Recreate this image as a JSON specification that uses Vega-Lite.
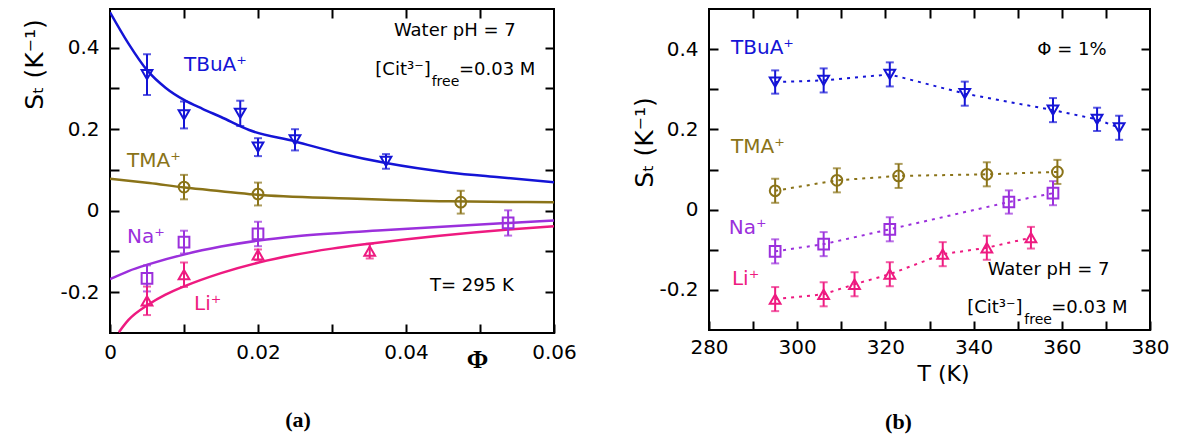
{
  "$schema": "https://vega.github.io/schema/vega-lite/v6.json",
  "background": "white",
  "padding": {"left": 21, "top": 7, "right": 0, "bottom": 0},
  "spacing": 155,
  "bounds": "flush",
  "config": {
    "font": "DejaVu Sans",
    "view": {"stroke": "black", "strokeWidth": 2},
    "axis": {"domain": false, "grid": false, "tickColor": "black", "tickWidth": 2, "tickSize": -9, "labelFontSize": 20, "labelColor": "black", "labelFont": "DejaVu Sans", "labelFlush": false, "labelOverlap": false, "labelBound": false, "titleColor": "black", "titleFontWeight": "normal", "titleFont": "DejaVu Sans"}
  },
  "datasets": {
    "left_pts": [
      {"ion": "TBuA", "phi": 0.005, "st": 0.334, "err": 0.05},
      {"ion": "TBuA", "phi": 0.010, "st": 0.235, "err": 0.033},
      {"ion": "TBuA", "phi": 0.0176, "st": 0.239, "err": 0.031},
      {"ion": "TBuA", "phi": 0.020, "st": 0.156, "err": 0.022},
      {"ion": "TBuA", "phi": 0.025, "st": 0.174, "err": 0.026},
      {"ion": "TBuA", "phi": 0.0373, "st": 0.121, "err": 0.018},
      {"ion": "TMA", "phi": 0.010, "st": 0.058, "err": 0.03},
      {"ion": "TMA", "phi": 0.020, "st": 0.041, "err": 0.028},
      {"ion": "TMA", "phi": 0.0474, "st": 0.021, "err": 0.028},
      {"ion": "Na", "phi": 0.005, "st": -0.166, "err": 0.032},
      {"ion": "Na", "phi": 0.010, "st": -0.077, "err": 0.028},
      {"ion": "Na", "phi": 0.020, "st": -0.057, "err": 0.03},
      {"ion": "Na", "phi": 0.0538, "st": -0.030, "err": 0.031},
      {"ion": "Li", "phi": 0.005, "st": -0.221, "err": 0.035},
      {"ion": "Li", "phi": 0.010, "st": -0.157, "err": 0.03},
      {"ion": "Li", "phi": 0.020, "st": -0.108, "err": 0.013},
      {"ion": "Li", "phi": 0.0351, "st": -0.099, "err": 0.018}
    ],
    "left_fit": [
      {"ion": "TBuA", "phi": 0, "st": 0.487},
      {"ion": "TBuA", "phi": 0.0025, "st": 0.41},
      {"ion": "TBuA", "phi": 0.005, "st": 0.345},
      {"ion": "TBuA", "phi": 0.0075, "st": 0.302},
      {"ion": "TBuA", "phi": 0.01, "st": 0.272},
      {"ion": "TBuA", "phi": 0.0125, "st": 0.25},
      {"ion": "TBuA", "phi": 0.015, "st": 0.23},
      {"ion": "TBuA", "phi": 0.0188, "st": 0.198},
      {"ion": "TBuA", "phi": 0.025, "st": 0.17},
      {"ion": "TBuA", "phi": 0.031, "st": 0.141},
      {"ion": "TBuA", "phi": 0.0373, "st": 0.117},
      {"ion": "TBuA", "phi": 0.0458, "st": 0.094},
      {"ion": "TBuA", "phi": 0.0526, "st": 0.082},
      {"ion": "TBuA", "phi": 0.06, "st": 0.07},
      {"ion": "TMA", "phi": 0, "st": 0.0785},
      {"ion": "TMA", "phi": 0.0053, "st": 0.068},
      {"ion": "TMA", "phi": 0.0101, "st": 0.057},
      {"ion": "TMA", "phi": 0.015, "st": 0.048},
      {"ion": "TMA", "phi": 0.0195, "st": 0.04},
      {"ion": "TMA", "phi": 0.0323, "st": 0.03},
      {"ion": "TMA", "phi": 0.0458, "st": 0.023},
      {"ion": "TMA", "phi": 0.06, "st": 0.021},
      {"ion": "Na", "phi": 0, "st": -0.168},
      {"ion": "Na", "phi": 0.0025, "st": -0.148},
      {"ion": "Na", "phi": 0.0053, "st": -0.131},
      {"ion": "Na", "phi": 0.0101, "st": -0.107},
      {"ion": "Na", "phi": 0.015, "st": -0.088},
      {"ion": "Na", "phi": 0.0201, "st": -0.073},
      {"ion": "Na", "phi": 0.0255, "st": -0.062},
      {"ion": "Na", "phi": 0.0368, "st": -0.048},
      {"ion": "Na", "phi": 0.0539, "st": -0.030},
      {"ion": "Na", "phi": 0.06, "st": -0.024},
      {"ion": "Li", "phi": 0.0012, "st": -0.298},
      {"ion": "Li", "phi": 0.0025, "st": -0.268},
      {"ion": "Li", "phi": 0.0053, "st": -0.229},
      {"ion": "Li", "phi": 0.0075, "st": -0.206},
      {"ion": "Li", "phi": 0.0101, "st": -0.185},
      {"ion": "Li", "phi": 0.015, "st": -0.153},
      {"ion": "Li", "phi": 0.0201, "st": -0.127},
      {"ion": "Li", "phi": 0.025, "st": -0.108},
      {"ion": "Li", "phi": 0.03, "st": -0.093},
      {"ion": "Li", "phi": 0.035, "st": -0.081},
      {"ion": "Li", "phi": 0.0539, "st": -0.046},
      {"ion": "Li", "phi": 0.06, "st": -0.038}
    ],
    "right_pts": [
      {"ion": "TBuA", "t": 295, "st": 0.318, "err": 0.029},
      {"ion": "TBuA", "t": 306, "st": 0.322, "err": 0.03},
      {"ion": "TBuA", "t": 321, "st": 0.337, "err": 0.03},
      {"ion": "TBuA", "t": 338, "st": 0.289, "err": 0.03},
      {"ion": "TBuA", "t": 358, "st": 0.248, "err": 0.03},
      {"ion": "TBuA", "t": 368, "st": 0.225, "err": 0.029},
      {"ion": "TBuA", "t": 373, "st": 0.204, "err": 0.03},
      {"ion": "TMA", "t": 295, "st": 0.047, "err": 0.03},
      {"ion": "TMA", "t": 309, "st": 0.073, "err": 0.03},
      {"ion": "TMA", "t": 323, "st": 0.084, "err": 0.03},
      {"ion": "TMA", "t": 343, "st": 0.088, "err": 0.03},
      {"ion": "TMA", "t": 359, "st": 0.094, "err": 0.03},
      {"ion": "Na", "t": 295, "st": -0.104, "err": 0.03},
      {"ion": "Na", "t": 306, "st": -0.086, "err": 0.03},
      {"ion": "Na", "t": 321, "st": -0.049, "err": 0.03},
      {"ion": "Na", "t": 348, "st": 0.019, "err": 0.029},
      {"ion": "Na", "t": 358, "st": 0.041, "err": 0.03},
      {"ion": "Li", "t": 295, "st": -0.223, "err": 0.03},
      {"ion": "Li", "t": 306, "st": -0.211, "err": 0.03},
      {"ion": "Li", "t": 313, "st": -0.186, "err": 0.03},
      {"ion": "Li", "t": 321, "st": -0.161, "err": 0.03},
      {"ion": "Li", "t": 333, "st": -0.111, "err": 0.03},
      {"ion": "Li", "t": 343, "st": -0.095, "err": 0.03},
      {"ion": "Li", "t": 353, "st": -0.070, "err": 0.027}
    ],
    "left_ions": [
      {"ion": "TBuA", "label": "TBuA⁺", "phi": 0.01, "st": 0.357},
      {"ion": "TMA", "label": "TMA⁺", "phi": 0.0023, "st": 0.121},
      {"ion": "Na", "label": "Na⁺", "phi": 0.0023, "st": -0.065},
      {"ion": "Li", "label": "Li⁺", "phi": 0.01135, "st": -0.228}
    ],
    "right_ions": [
      {"ion": "TBuA", "label": "TBuA⁺", "t": 285, "st": 0.402},
      {"ion": "TMA", "label": "TMA⁺", "t": 285, "st": 0.157},
      {"ion": "Na", "label": "Na⁺", "t": 284.5, "st": -0.046},
      {"ion": "Li", "label": "Li⁺", "t": 285.2, "st": -0.172}
    ],
    "left_notes": [
      {"part": "center", "label": "Water pH = 7", "phi": 0.0466, "st": 0.441},
      {"part": "center", "label": "T= 295 K", "phi": 0.0489, "st": -0.184},
      {"part": "right", "label": "[Cit³⁻]", "phi": 0.04334, "st": 0.345},
      {"part": "sub", "label": "free", "phi": 0.04347, "st": 0.316},
      {"part": "left", "label": "=0.03 M", "phi": 0.04716, "st": 0.345}
    ],
    "right_notes": [
      {"part": "center", "label": "Φ = 1%", "t": 362.3, "st": 0.397},
      {"part": "center", "label": "Water pH = 7", "t": 357, "st": -0.150},
      {"part": "right", "label": "[Cit³⁻]", "t": 351.1, "st": -0.244},
      {"part": "sub", "label": "free", "t": 351.5, "st": -0.275},
      {"part": "left", "label": "=0.03 M", "t": 357.6, "st": -0.244}
    ]
  },
  "hconcat": [
    {
      "width": 444,
      "height": 324,
      "title": {"text": "(a)", "orient": "bottom", "font": "Liberation Serif", "fontSize": 22, "fontWeight": "bold", "color": "black", "dx": -34, "offset": 38},
      "resolve": {"axis": {"x": "independent", "y": "independent"}},
      "layer": [
        {
          "mark": {"type": "rule", "color": "black", "strokeWidth": 2},
          "encoding": {"y": {"datum": 0, "type": "quantitative", "scale": {"domain": [-0.3, 0.495], "nice": false, "zero": false}, "axis": null}}
        },
        {
          "data": {"name": "left_fit"},
          "mark": {"type": "line", "strokeWidth": 2.5, "interpolate": "monotone", "clip": true},
          "encoding": {
            "x": {"field": "phi", "type": "quantitative", "scale": {"domain": [0, 0.06], "nice": false, "zero": false},
              "axis": {"orient": "bottom", "values": [0, 0.01, 0.02, 0.03, 0.04, 0.05, 0.06], "labelExpr": "round(datum.value*100)%2==0 ? format(datum.value,'~g') : ''", "labelPadding": 18, "title": "Φ", "titleFont": "Liberation Serif", "titleFontSize": 26, "titleFontWeight": "bold", "titleX": 367, "titleY": 26, "titleBaseline": "middle", "titleAlign": "center"}},
            "y": {"field": "st", "type": "quantitative", "scale": {"domain": [-0.3, 0.495], "nice": false, "zero": false},
              "axis": {"orient": "left", "values": [-0.2, -0.1, 0, 0.1, 0.2, 0.3, 0.4], "labelExpr": "round(datum.value*10)%2==0 ? (datum.value < 0 ? '-' + format(-datum.value,'~g') : format(datum.value,'~g')) : ''", "labelPadding": 20, "title": "Sₜ (K⁻¹)", "titleFontSize": 25, "titleX": -63, "titleY": 55, "titleAlign": "center", "titleBaseline": "bottom"}},
            "color": {"field": "ion", "type": "nominal", "scale": {"domain": ["TBuA", "TMA", "Na", "Li"], "range": ["#1414d6", "#8a7318", "#9b30dc", "#ee1a80"]}, "legend": null},
            "detail": {"field": "ion"}
          }
        },
        {
          "data": {"name": "left_pts"},
          "mark": {"type": "errorbar", "ticks": {"size": 8, "thickness": 2}, "rule": {"strokeWidth": 2}},
          "encoding": {
            "x": {"field": "phi", "type": "quantitative", "scale": {"domain": [0, 0.06], "nice": false, "zero": false}, "axis": null},
            "y": {"field": "st", "type": "quantitative", "scale": {"domain": [-0.3, 0.495], "nice": false, "zero": false}, "axis": null},
            "yError": {"field": "err"},
            "color": {"field": "ion", "type": "nominal", "scale": {"domain": ["TBuA", "TMA", "Na", "Li"], "range": ["#1414d6", "#8a7318", "#9b30dc", "#ee1a80"]}, "legend": null}
          }
        },
        {
          "data": {"name": "left_pts"},
          "mark": {"type": "point", "filled": false, "strokeWidth": 2, "size": 115, "opacity": 1},
          "encoding": {
            "x": {"field": "phi", "type": "quantitative", "scale": {"domain": [0, 0.06], "nice": false, "zero": false},
              "axis": {"orient": "top", "values": [0.01, 0.02, 0.03, 0.04, 0.05], "labels": false, "title": null}},
            "y": {"field": "st", "type": "quantitative", "scale": {"domain": [-0.3, 0.495], "nice": false, "zero": false},
              "axis": {"orient": "right", "values": [-0.2, -0.1, 0, 0.1, 0.2, 0.3, 0.4], "labels": false, "title": null}},
            "color": {"field": "ion", "type": "nominal", "scale": {"domain": ["TBuA", "TMA", "Na", "Li"], "range": ["#1414d6", "#8a7318", "#9b30dc", "#ee1a80"]}, "legend": null},
            "shape": {"field": "ion", "type": "nominal", "scale": {"domain": ["TBuA", "TMA", "Na", "Li"], "range": ["triangle-down", "circle", "square", "triangle-up"]}, "legend": null}
          }
        },
        {
          "data": {"name": "left_ions"},
          "mark": {"type": "text", "align": "left", "baseline": "middle", "fontSize": 20},
          "encoding": {
            "x": {"field": "phi", "type": "quantitative", "axis": null},
            "y": {"field": "st", "type": "quantitative", "axis": null},
            "text": {"field": "label"},
            "color": {"field": "ion", "type": "nominal", "scale": {"domain": ["TBuA", "TMA", "Na", "Li"], "range": ["#1414d6", "#8a7318", "#9b30dc", "#ee1a80"]}, "legend": null}
          }
        },
        {
          "data": {"name": "left_notes"},
          "transform": [{"filter": "datum.part == 'center'"}],
          "mark": {"type": "text", "align": "center", "baseline": "middle", "fontSize": 18, "color": "black"},
          "encoding": {"x": {"field": "phi", "type": "quantitative", "axis": null}, "y": {"field": "st", "type": "quantitative", "axis": null}, "text": {"field": "label"}}
        },
        {
          "data": {"name": "left_notes"},
          "transform": [{"filter": "datum.part == 'right'"}],
          "mark": {"type": "text", "align": "right", "baseline": "middle", "fontSize": 18, "color": "black"},
          "encoding": {"x": {"field": "phi", "type": "quantitative", "axis": null}, "y": {"field": "st", "type": "quantitative", "axis": null}, "text": {"field": "label"}}
        },
        {
          "data": {"name": "left_notes"},
          "transform": [{"filter": "datum.part == 'left'"}],
          "mark": {"type": "text", "align": "left", "baseline": "middle", "fontSize": 18, "color": "black"},
          "encoding": {"x": {"field": "phi", "type": "quantitative", "axis": null}, "y": {"field": "st", "type": "quantitative", "axis": null}, "text": {"field": "label"}}
        },
        {
          "data": {"name": "left_notes"},
          "transform": [{"filter": "datum.part == 'sub'"}],
          "mark": {"type": "text", "align": "left", "baseline": "middle", "fontSize": 14, "color": "black"},
          "encoding": {"x": {"field": "phi", "type": "quantitative", "axis": null}, "y": {"field": "st", "type": "quantitative", "axis": null}, "text": {"field": "label"}}
        }
      ]
    },
    {
      "width": 441,
      "height": 321,
      "title": {"text": "(b)", "orient": "bottom", "font": "Liberation Serif", "fontSize": 22, "fontWeight": "bold", "color": "black", "dx": -31, "offset": 28},
      "resolve": {"axis": {"x": "independent", "y": "independent"}},
      "layer": [
        {
          "mark": {"type": "rule", "color": "black", "strokeWidth": 2},
          "encoding": {"y": {"datum": 0, "type": "quantitative", "scale": {"domain": [-0.3, 0.5], "nice": false, "zero": false}, "axis": null}}
        },
        {
          "data": {"name": "right_pts"},
          "mark": {"type": "line", "strokeWidth": 2, "strokeDash": [3, 5]},
          "encoding": {
            "x": {"field": "t", "type": "quantitative", "scale": {"domain": [280, 380], "nice": false, "zero": false},
              "axis": {"orient": "bottom", "values": [280, 290, 300, 310, 320, 330, 340, 350, 360, 370, 380], "labelExpr": "datum.value % 20 == 0 ? format(datum.value,'d') : ''", "labelPadding": 16, "title": "T (K)", "titleFontSize": 22, "titleX": 234, "titleY": 43, "titleBaseline": "middle", "titleAlign": "center"}},
            "y": {"field": "st", "type": "quantitative", "scale": {"domain": [-0.3, 0.5], "nice": false, "zero": false},
              "axis": {"orient": "left", "values": [-0.2, -0.1, 0, 0.1, 0.2, 0.3, 0.4], "labelExpr": "round(datum.value*10)%2==0 ? (datum.value < 0 ? '-' + format(-datum.value,'~g') : format(datum.value,'~g')) : ''", "labelPadding": 20, "title": "Sₜ (K⁻¹)", "titleFontSize": 25, "titleX": -52, "titleY": 133, "titleAlign": "center", "titleBaseline": "bottom"}},
            "color": {"field": "ion", "type": "nominal", "scale": {"domain": ["TBuA", "TMA", "Na", "Li"], "range": ["#1414d6", "#8a7318", "#9b30dc", "#ee1a80"]}, "legend": null},
            "detail": {"field": "ion"}
          }
        },
        {
          "data": {"name": "right_pts"},
          "mark": {"type": "errorbar", "ticks": {"size": 8, "thickness": 2}, "rule": {"strokeWidth": 2}},
          "encoding": {
            "x": {"field": "t", "type": "quantitative", "scale": {"domain": [280, 380], "nice": false, "zero": false}, "axis": null},
            "y": {"field": "st", "type": "quantitative", "scale": {"domain": [-0.3, 0.5], "nice": false, "zero": false}, "axis": null},
            "yError": {"field": "err"},
            "color": {"field": "ion", "type": "nominal", "scale": {"domain": ["TBuA", "TMA", "Na", "Li"], "range": ["#1414d6", "#8a7318", "#9b30dc", "#ee1a80"]}, "legend": null}
          }
        },
        {
          "data": {"name": "right_pts"},
          "mark": {"type": "point", "filled": false, "strokeWidth": 2, "size": 115, "opacity": 1},
          "encoding": {
            "x": {"field": "t", "type": "quantitative", "scale": {"domain": [280, 380], "nice": false, "zero": false},
              "axis": {"orient": "top", "values": [290, 300, 310, 320, 330, 340, 350, 360, 370], "labels": false, "title": null}},
            "y": {"field": "st", "type": "quantitative", "scale": {"domain": [-0.3, 0.5], "nice": false, "zero": false},
              "axis": {"orient": "right", "values": [-0.2, -0.1, 0, 0.1, 0.2, 0.3, 0.4], "labels": false, "title": null}},
            "color": {"field": "ion", "type": "nominal", "scale": {"domain": ["TBuA", "TMA", "Na", "Li"], "range": ["#1414d6", "#8a7318", "#9b30dc", "#ee1a80"]}, "legend": null},
            "shape": {"field": "ion", "type": "nominal", "scale": {"domain": ["TBuA", "TMA", "Na", "Li"], "range": ["triangle-down", "circle", "square", "triangle-up"]}, "legend": null}
          }
        },
        {
          "data": {"name": "right_ions"},
          "mark": {"type": "text", "align": "left", "baseline": "middle", "fontSize": 20},
          "encoding": {
            "x": {"field": "t", "type": "quantitative", "axis": null},
            "y": {"field": "st", "type": "quantitative", "axis": null},
            "text": {"field": "label"},
            "color": {"field": "ion", "type": "nominal", "scale": {"domain": ["TBuA", "TMA", "Na", "Li"], "range": ["#1414d6", "#8a7318", "#9b30dc", "#ee1a80"]}, "legend": null}
          }
        },
        {
          "data": {"name": "right_notes"},
          "transform": [{"filter": "datum.part == 'center'"}],
          "mark": {"type": "text", "align": "center", "baseline": "middle", "fontSize": 18, "color": "black"},
          "encoding": {"x": {"field": "t", "type": "quantitative", "axis": null}, "y": {"field": "st", "type": "quantitative", "axis": null}, "text": {"field": "label"}}
        },
        {
          "data": {"name": "right_notes"},
          "transform": [{"filter": "datum.part == 'right'"}],
          "mark": {"type": "text", "align": "right", "baseline": "middle", "fontSize": 18, "color": "black"},
          "encoding": {"x": {"field": "t", "type": "quantitative", "axis": null}, "y": {"field": "st", "type": "quantitative", "axis": null}, "text": {"field": "label"}}
        },
        {
          "data": {"name": "right_notes"},
          "transform": [{"filter": "datum.part == 'left'"}],
          "mark": {"type": "text", "align": "left", "baseline": "middle", "fontSize": 18, "color": "black"},
          "encoding": {"x": {"field": "t", "type": "quantitative", "axis": null}, "y": {"field": "st", "type": "quantitative", "axis": null}, "text": {"field": "label"}}
        },
        {
          "data": {"name": "right_notes"},
          "transform": [{"filter": "datum.part == 'sub'"}],
          "mark": {"type": "text", "align": "left", "baseline": "middle", "fontSize": 14, "color": "black"},
          "encoding": {"x": {"field": "t", "type": "quantitative", "axis": null}, "y": {"field": "st", "type": "quantitative", "axis": null}, "text": {"field": "label"}}
        }
      ]
    }
  ]
}
